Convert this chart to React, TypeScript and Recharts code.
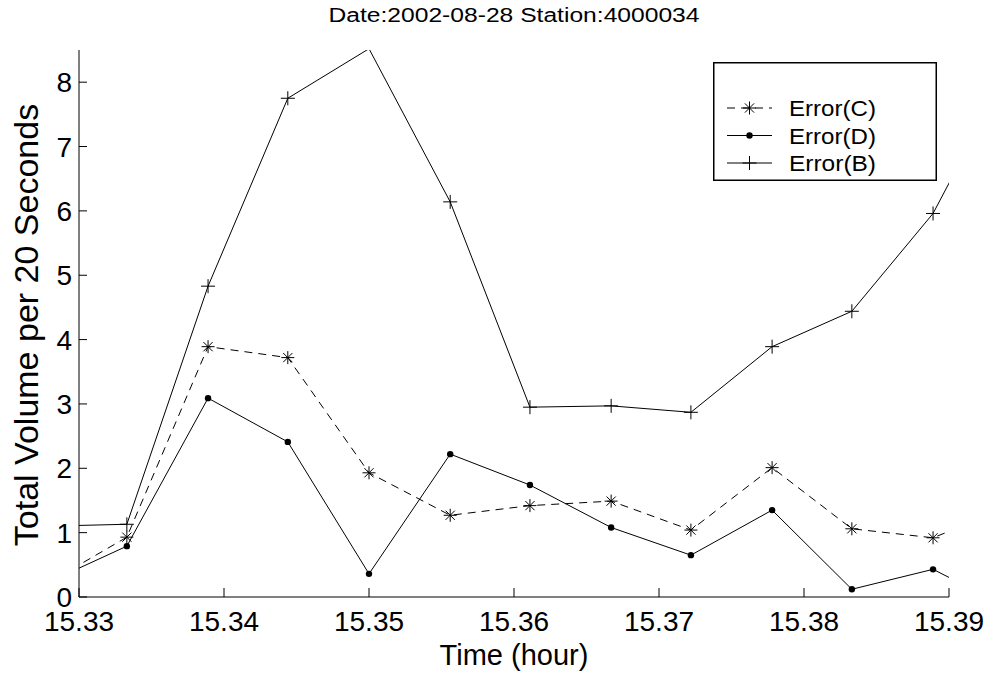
import { LineChart, Line, XAxis, YAxis, Legend } from "recharts";

// time stamps (hour), one sample per 20 s; first and last fall outside the visible window
const times = [15.3278, 15.3333, 15.3389, 15.3444, 15.35, 15.3556, 15.3611, 15.3667, 15.3722, 15.3778, 15.3833, 15.3889, 15.3944];
const errorC = [0.21, 0.93, 3.89, 3.72, 1.93, 1.27, 1.42, 1.49, 1.04, 2.01, 1.06, 0.92, 1.42];
const errorD = [0.22, 0.79, 3.09, 2.41, 0.36, 2.22, 1.74, 1.08, 0.65, 1.35, 0.12, 0.43, -0.2];
const errorB = [1.1, 1.13, 4.83, 7.75, 8.52, 6.14, 2.95, 2.97, 2.87, 3.89, 4.44, 5.96, 8.31];

const xTicks = [15.33, 15.34, 15.35, 15.36, 15.37, 15.38, 15.39];
const yTicks = [0, 1, 2, 3, 4, 5, 6, 7, 8];
const xDomain = [15.33, 15.39];
const yDomain = [0, 8.5];

const title = "Date:2002-08-28 Station:4000034";
const xLabel = "Time (hour)";
const yLabel = "Total Volume per 20 Seconds";

const data = times.map((t, i) => ({ t, c: errorC[i], d: errorD[i], b: errorB[i] }));

const FONT = '"Liberation Sans", Arial, Helvetica, sans-serif';

function Plus({ cx, cy }: { cx: number; cy: number }) {
  const r = 7;
  return <path d={`M${cx - r},${cy}H${cx + r}M${cx},${cy - r}V${cy + r}`} stroke="#000" strokeWidth={1} fill="none" />;
}

function Star({ cx, cy }: { cx: number; cy: number }) {
  const r = 6.5;
  const d = 4.6;
  return (
    <path
      d={`M${cx - r},${cy}H${cx + r}M${cx},${cy - r}V${cy + r}M${cx - d},${cy - d}L${cx + d},${cy + d}M${cx - d},${cy + d}L${cx + d},${cy - d}`}
      stroke="#000"
      strokeWidth={1}
      fill="none"
    />
  );
}

function Dot({ cx, cy }: { cx: number; cy: number }) {
  return <circle cx={cx} cy={cy} r={3.2} fill="#000" />;
}

const series = [
  { key: "c", name: "Error(C)", dash: "8 6", Marker: Star },
  { key: "d", name: "Error(D)", dash: undefined, Marker: Dot },
  { key: "b", name: "Error(B)", dash: undefined, Marker: Plus },
];

function makeDot(Marker: any, key: string) {
  return (p: any) => {
    const v = p.payload?.[key];
    const t = p.payload?.t;
    if (t < xDomain[0] || t > xDomain[1] || v < yDomain[0] || v > yDomain[1] || p.cx == null || p.cy == null) {
      return <g key={`${key}-${p.index}`} />;
    }
    return (
      <g key={`${key}-${p.index}`}>
        <Marker cx={p.cx} cy={p.cy} />
      </g>
    );
  };
}

const XTick = ({ x, y, payload }: any) => (
  <text x={x} y={y + 34} textAnchor="middle" fontSize={28} fontFamily={FONT} fill="#000">
    {Number(payload.value).toFixed(2)}
  </text>
);

const YTick = ({ x, y, payload }: any) => (
  <text x={x - 7} y={y + 10} textAnchor="end" fontSize={28} fontFamily={FONT} fill="#000">
    {payload.value}
  </text>
);

function LegendBox() {
  return (
    <svg width={224} height={119} style={{ display: "block" }}>
      <rect x={0.75} y={0.75} width={222.5} height={117.5} fill="#fff" stroke="#000" strokeWidth={1.5} />
      {series.map((s, i) => {
        const cy = 46 + i * 27.5;
        return (
          <g key={s.key}>
            <line x1={14} x2={59} y1={cy} y2={cy} stroke="#000" strokeWidth={1} strokeDasharray={s.dash} />
            <s.Marker cx={36.5} cy={cy} />
            <text x={76} y={cy + 8} fontSize={22} fontFamily={FONT} fill="#000" textLength={87} lengthAdjust="spacingAndGlyphs">
              {s.name}
            </text>
          </g>
        );
      })}
    </svg>
  );
}

export default function App() {
  return (
    <div style={{ position: "absolute", left: 0, top: 0, width: 995, height: 675, background: "#fff" }}>
      <LineChart width={995} height={675} data={data} margin={{ top: 50, right: 46, bottom: 0, left: 0 }}>
        <XAxis
          dataKey="t"
          type="number"
          domain={xDomain}
          allowDataOverflow
          ticks={xTicks}
          interval={0}
          height={78}
          tickSize={-9}
          tickMargin={9}
          tick={<XTick />}
          stroke="#000"
        />
        <YAxis
          type="number"
          domain={yDomain}
          allowDataOverflow
          ticks={yTicks}
          interval={0}
          width={79}
          tickSize={-8}
          tickMargin={8}
          tick={<YTick />}
          stroke="#000"
        />
        {series.map((s) => (
          <Line
            key={s.key}
            dataKey={s.key}
            name={s.name}
            type="linear"
            stroke="#000"
            strokeWidth={1}
            strokeDasharray={s.dash}
            dot={makeDot(s.Marker, s.key)}
            activeDot={false}
            isAnimationActive={false}
          />
        ))}
        <Legend
          layout="vertical"
          align="center"
          verticalAlign="middle"
          wrapperStyle={{ left: 713, top: 62, width: 224, height: 119 }}
          content={() => <LegendBox />}
        />
        <text x={514} y={22} textAnchor="middle" fontSize={20} fontFamily={FONT} fill="#000" textLength={371} lengthAdjust="spacingAndGlyphs">
          {title}
        </text>
        <text x={514} y={665} textAnchor="middle" fontSize={29} fontFamily={FONT} fill="#000">
          {xLabel}
        </text>
        <text
          x={38}
          y={325}
          transform="rotate(-90 38 325)"
          textAnchor="middle"
          fontSize={34}
          fontFamily={FONT}
          fill="#000"
        >
          {yLabel}
        </text>
      </LineChart>
    </div>
  );
}
